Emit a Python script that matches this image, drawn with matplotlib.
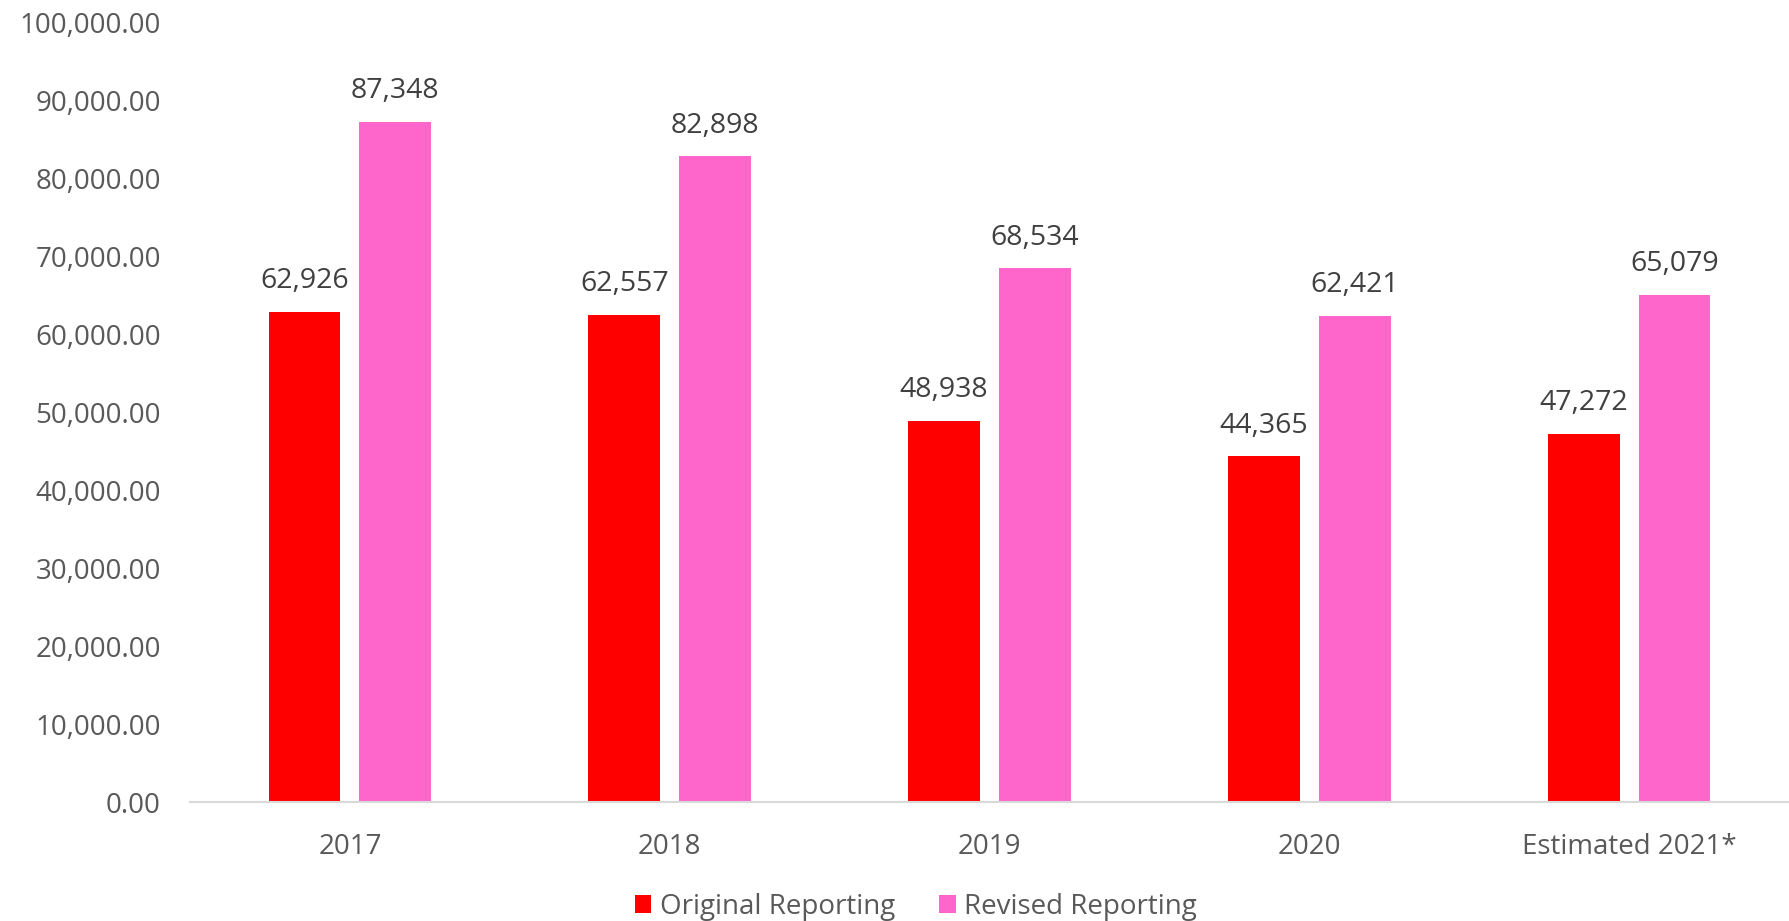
import matplotlib
matplotlib.use("Agg")
import matplotlib.pyplot as plt
import numpy as np
from matplotlib.ticker import FuncFormatter
from matplotlib.patches import Patch

categories = ["2017", "2018", "2019", "2020", "Estimated 2021*"]
original = [62926, 62557, 48938, 44365, 47272]
revised = [87348, 82898, 68534, 62421, 65079]
series_names = ["Original Reporting", "Revised Reporting"]
colors = ["#FF0000", "#FF66CC"]

plt.rcParams['font.family'] = ['Open Sans', 'DejaVu Sans']

fig = plt.figure(figsize=(17.89, 9.21), dpi=100)
ax = fig.add_axes([190/1789, 1-802/921, 1-190/1789, (802-23)/921])

x = np.arange(len(categories))
w = 0.225
off = 0.142
b1 = ax.bar(x - off, original, w, color=colors[0])
b2 = ax.bar(x + off, revised, w, color=colors[1])

for bars, vals in ((b1, original), (b2, revised)):
    for bar, v in zip(bars, vals):
        ax.annotate(f"{v:,}", (bar.get_x() + bar.get_width()/2, v),
                    xytext=(0, 22), textcoords="offset points",
                    ha="center", va="center", fontsize=20.5, color="#404040")

ax.set_xlim(-0.5, len(categories) - 0.5)
ax.set_ylim(0, 100000)
ax.set_yticks(np.arange(0, 100001, 10000))
ax.yaxis.set_major_formatter(FuncFormatter(lambda v, p: f"{v:,.2f}"))
ax.set_xticks(x)
ax.set_xticklabels(categories)
ax.tick_params(axis='both', length=0, labelsize=20, labelcolor="#595959")
ax.tick_params(axis='y', pad=21)
ax.tick_params(axis='x', pad=22)

for s in ("top", "right", "left"):
    ax.spines[s].set_visible(False)
ax.spines["bottom"].set_color("#D9D9D9")
ax.spines["bottom"].set_linewidth(1.5)

handles = [Patch(facecolor=c, edgecolor='none') for c in colors]
fig.legend(handles, series_names, loc="center", bbox_to_anchor=(916/1789, 1-907/921),
           ncol=2, frameon=False, fontsize=20, labelcolor="#595959",
           handlelength=0.6, handleheight=0.6, handletextpad=0.3, columnspacing=1.6)

fig.savefig("out.png", dpi=100)
